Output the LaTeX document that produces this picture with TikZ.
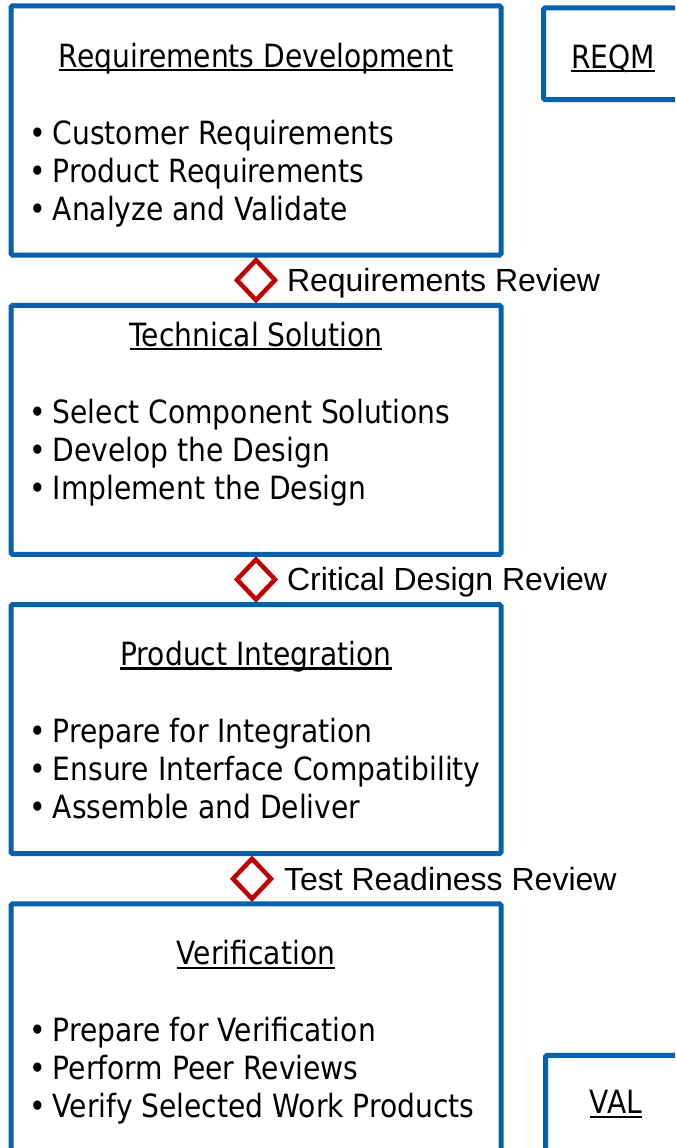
\documentclass[tikz,border=0pt]{standalone}
\usepackage{fontspec}
\setmainfont{DejaVu Sans}[FakeStretch=0.88]
\newfontfamily\revfont{Liberation Sans}
\usetikzlibrary{positioning, shapes.geometric, calc}

\definecolor{phaseblue}{RGB}{5,97,172}
\definecolor{gatered}{RGB}{192,0,0}

\newcommand{\uhead}[1]{\setbox0\hbox{#1}\rlap{\rule[-4pt]{\wd0}{2.2pt}}\box0}
\newcommand{\itm}[1]{\strut\makebox[23pt][l]{\textbullet}#1}

\begin{document}
\begin{tikzpicture}[x=1pt, y=1pt, outer sep=0pt, node distance=50.3pt,
    phase/.style={draw=phaseblue, line width=5pt, rounded corners=1.5pt, minimum width=490pt, minimum height=249pt, inner sep=0pt},
    side/.style={draw=phaseblue, line width=5pt, rounded corners=1.5pt, inner sep=0pt},
    gate/.style={diamond, draw=gatered, line width=4.5pt, minimum width=38pt, minimum height=40pt, inner sep=0pt},
    review/.style={font=\revfont\fontsize{32}{38}\selectfont, inner sep=0pt, text height=23pt, text depth=0pt},
    heading/.style={font=\fontsize{32}{38}\selectfont, inner sep=0pt, anchor=base},
    items/.style={font=\fontsize{32}{38}\selectfont, inner sep=0pt, align=left, anchor=north west}]
  \useasboundingbox (0,0) rectangle (675,-1148);
  \clip (0,0) rectangle (675,-1148);

  % phases
  \node[phase] (reqdev) at (256,-130.5) {};
  \node[phase, below=of reqdev] (techsol) {};
  \node[phase, below=of techsol] (prodint) {};
  \node[phase, below=of prodint] (verif) {};

  % side areas, cut by the page edge
  \node[side, minimum width=139pt, minimum height=91.5pt, right=42.5pt of reqdev.north east, anchor=north west, yshift=-2pt] (reqm) {};
  \node[side, minimum width=141pt, minimum height=110pt, right=44.5pt of verif.north east, anchor=north west, yshift=-151.5pt] (val) {};
  \node[heading] (reqm-t) at ([yshift=-60.5pt]reqm.north) {\uhead{REQM}};
  \node[heading] (val-t) at ([yshift=-58.5pt]val.north) {\uhead{VAL}};

  % reviews between phases
  \node[gate] (rr) at ($(reqdev.south)!0.5!(techsol.north)$) {};
  \node[gate] (cdr) at ($(techsol.south)!0.5!(prodint.north)$) {};
  \node[gate] (trr) at ($(prodint.south)!0.5!(verif.north) + (-4,0)$) {};
  \node[review, right=12pt of rr] (rr-l) {Requirements Review};
  \node[review, right=12pt of cdr] (cdr-l) {Critical Design Review};
  \node[review, right=13pt of trr] (trr-l) {Test Readiness Review};

  % phase contents
  \node[heading] (reqdev-t) at ([yshift=-61pt]reqdev.north) {\uhead{Requirements Development}};
  \node[items] (reqdev-i) at ([xshift=18.8pt, yshift=-111.4pt]reqdev.north west)
    {\itm{Customer Requirements}\\ \itm{Product Requirements}\\ \itm{Analyze and Validate}};

  \node[heading] (techsol-t) at ([yshift=-41pt]techsol.north) {\uhead{Technical Solution}};
  \node[items] (techsol-i) at ([xshift=18.8pt, yshift=-91.4pt]techsol.north west)
    {\itm{Select Component Solutions}\\ \itm{Develop the Design}\\ \itm{Implement the Design}};

  \node[heading] (prodint-t) at ([yshift=-61pt]prodint.north) {\uhead{Product Integration}};
  \node[items] (prodint-i) at ([xshift=18.8pt, yshift=-111.4pt]prodint.north west)
    {\itm{Prepare for Integration}\\ \itm{Ensure Interface Compatibility}\\ \itm{Assemble and Deliver}};

  \node[heading] (verif-t) at ([yshift=-61pt]verif.north) {\uhead{Verification}};
  \node[items] (verif-i) at ([xshift=18.8pt, yshift=-111.4pt]verif.north west)
    {\itm{Prepare for Verification}\\ \itm{Perform Peer Reviews}\\ \itm{Verify Selected Work Products}};
\end{tikzpicture}
\end{document}
